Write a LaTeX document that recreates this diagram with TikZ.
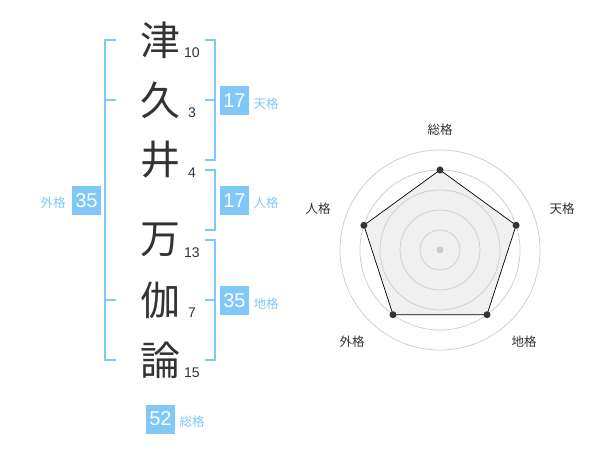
\documentclass[tikz,border=0pt]{standalone}
\usepackage{fontspec}
\setmainfont{Liberation Sans}
\newfontfamily\jp{Noto Sans CJK JP}
\definecolor{blu}{HTML}{80C8FA}
\definecolor{ink}{HTML}{333333}
\begin{document}
\begin{tikzpicture}[x=1pt,y=-1pt,
 kanji/.style={font=\jp\fontsize{40}{40}\selectfont, text=ink, inner sep=0},
 strokes/.style={font=\fontsize{14}{14}\selectfont, text=ink, inner sep=0},
 box/.style={fill=blu, text=white, minimum size=29pt, inner sep=0, font=\fontsize{20}{20}\selectfont},
 lab/.style={text=blu, font=\jp\fontsize{12.5}{12.5}\selectfont, inner sep=0},
 brk/.style={draw=blu, line width=2pt},
 ring/.style={draw=black!20, line width=0.7pt},
 axlab/.style={text=ink, font=\jp\fontsize{12.5}{12.5}\selectfont, inner sep=0},
 dot/.style={circle, fill=ink, inner sep=0, minimum size=7pt}]
\useasboundingbox[fill=white] (0,0) rectangle (600,470);
% characters
\node[kanji] (k1) at (160,40) {津};
\node[kanji] (k2) at (160,100) {久};
\node[kanji] (k3) at (160,160) {井};
\node[kanji] (k4) at (160,240) {万};
\node[kanji] (k5) at (160,300) {伽};
\node[kanji] (k6) at (160,360) {論};
\node[strokes] (s1) at (192,53) {10};
\node[strokes] (s2) at (192,113) {3};
\node[strokes] (s3) at (192,173) {4};
\node[strokes] (s4) at (192,253) {13};
\node[strokes] (s5) at (192,313) {7};
\node[strokes] (s6) at (192,373) {15};
% brackets
\draw[brk] (116,40) -- (105,40) -- (105,360) -- (116,360);
\draw[brk] (105,100) -- (116,100);
\draw[brk] (105,300) -- (116,300);
\draw[brk] (205,40) -- (215,40) -- (215,160) -- (205,160);
\draw[brk] (205,100) -- (215,100);
\draw[brk] (205,170) -- (215,170) -- (215,230) -- (205,230);
\draw[brk] (205,240) -- (215,240) -- (215,360) -- (205,360);
\draw[brk] (205,300) -- (215,300);
% boxes
\node[box] (b1) at (234.5,100.5) {17};
\node[lab] (l1) at (266,104) {天格};
\node[box] (b2) at (234.5,200.5) {17};
\node[lab] (l2) at (266,203) {人格};
\node[box] (b3) at (234.5,300.5) {35};
\node[lab] (l3) at (266,304) {地格};
\node[box] (b4) at (86.5,200.5) {35};
\node[lab] (l4) at (53,203) {外格};
\node[box] (b5) at (160.5,419) {52};
\node[lab] (l5) at (192,422) {総格};
% radar
\coordinate (c) at (440,250);
\coordinate (p1) at (440,170);
\coordinate (p2) at (516.1,225.3);
\coordinate (p3) at (487.0,314.7);
\coordinate (p4) at (393.0,314.7);
\coordinate (p5) at (363.9,225.3);
\fill[black!6] (p1) -- (p2) -- (p3) -- (p4) -- (p5) -- cycle;
\foreach \r in {20,40,60,80,100} \draw[ring] (c) circle (\r pt);
\node[circle, fill=black!20, inner sep=0, minimum size=7pt] (cd) at (c) {};
\draw[black, line width=0.7pt] (p1) -- (p2) -- (p3) -- (p4) -- (p5) -- cycle;
\foreach \p in {p1,p2,p3,p4,p5} \node[dot] (d\p) at (\p) {};
\node[axlab] (a1) at (440,130) {総格};
\node[axlab] (a2) at (562,209) {天格};
\node[axlab] (a3) at (524,342) {地格};
\node[axlab] (a4) at (352,342) {外格};
\node[axlab] (a5) at (318,209) {人格};
\end{tikzpicture}
\end{document}
